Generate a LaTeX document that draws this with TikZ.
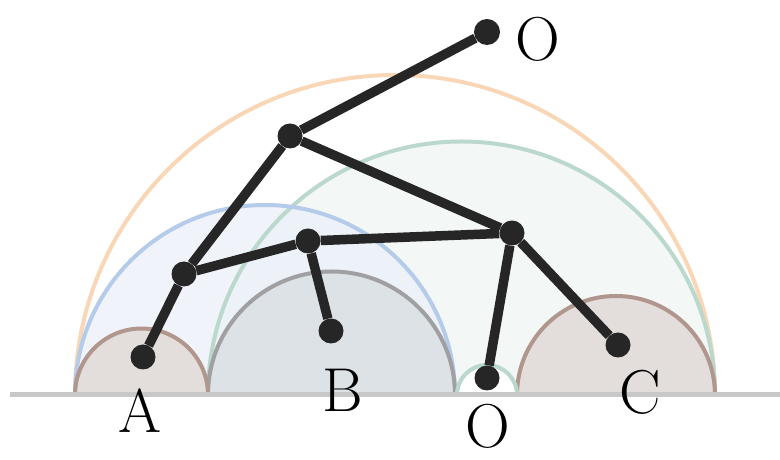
\documentclass[tikz,border=0pt]{standalone}
\usepackage{tikz}
\usetikzlibrary{positioning}
\usepackage{xcolor}
\definecolor{edgecol}{RGB}{38,38,38}
\definecolor{ground}{RGB}{200,200,200}
\definecolor{orangearc}{RGB}{248,214,182}
\definecolor{greenarc}{RGB}{186,216,204}
\definecolor{bluearc}{RGB}{180,204,234}
\definecolor{brownarc}{RGB}{176,150,140}
\definecolor{grayarc}{RGB}{160,160,162}
\definecolor{greenfill}{RGB}{243,247,246}
\definecolor{bluefill}{RGB}{237,242,249}
\definecolor{grayfill}{RGB}{221,226,231}
\definecolor{brownfill}{RGB}{227,222,219}

\begin{document}
\begin{tikzpicture}[
  x=1pt, y=1pt,
  every node/.style={font=\fontsize{62}{66}\selectfont},
  vertex/.style={circle, fill=edgecol, inner sep=0pt, minimum size=25pt},
  link/.style={draw=edgecol, line width=9.5pt},
  halfdisc/.style={line width=4pt},
  tag/.style={inner sep=0pt}
]
\useasboundingbox (0,0) rectangle (780,460);

% fills of the half discs
\fill[greenfill] (208,65) arc[start angle=180, end angle=0, radius=253.5] -- cycle;
\fill[bluefill, fill opacity=0.85] (75,65) arc[start angle=180, end angle=0, radius=190] -- cycle;
\fill[grayfill] (208,65) arc[start angle=180, end angle=0, radius=123.5] -- cycle;
\fill[brownfill] (75,65) arc[start angle=180, end angle=0, radius=66.5] -- cycle;
\fill[brownfill] (517,65) arc[start angle=180, end angle=0, radius=99] -- cycle;
\fill[white] (457,65) arc[start angle=180, end angle=0, radius=30] -- cycle;

% outlines
\draw[halfdisc, orangearc] (75,65) arc[start angle=180, end angle=0, radius=320];
\draw[halfdisc, greenarc] (208,65) arc[start angle=180, end angle=0, radius=253.5];
\draw[halfdisc, bluearc] (75,65) arc[start angle=180, end angle=0, radius=190];
\draw[halfdisc, grayarc] (208,65) arc[start angle=180, end angle=0, radius=123.5];
\draw[halfdisc, brownarc] (75,65) arc[start angle=180, end angle=0, radius=66.5];
\draw[halfdisc, brownarc] (517,65) arc[start angle=180, end angle=0, radius=99];
\draw[halfdisc, greenarc] (457,65) arc[start angle=180, end angle=0, radius=30];

% ground line
\coordinate (gl) at (10,65);
\coordinate (gr) at (780,65);
\draw[ground, line width=5pt] (gl) -- (gr);

% tree
\node[vertex, minimum size=26pt] (root) at (487,428) {};
\node[vertex] (u) at (290,324) {};
\node[vertex] (v) at (512,227) {};
\node[vertex] (w) at (308,219) {};
\node[vertex] (x) at (184,186) {};
\node[vertex] (a) at (143,103) {};
\node[vertex] (b) at (331,129) {};
\node[vertex] (o) at (487,82) {};
\node[vertex] (c) at (618,115) {};

\draw[link] (root) -- (u);
\draw[link] (u) -- (x);
\draw[link] (u) -- (v);
\draw[link] (x) -- (a);
\draw[link] (x) -- (w);
\draw[link] (w) -- (v);
\draw[link] (w) -- (b);
\draw[link] (v) -- (o);
\draw[link] (v) -- (c);

% labels
\node[tag] (la) at (140,49) {A};
\node[tag] (lb) at (343,70) {B};
\node[tag] (lo) at (488,34) {O};
\node[tag] (lc) at (640,68) {C};
\node[tag] (lr) at (538,421) {O};

\end{tikzpicture}
\end{document}
